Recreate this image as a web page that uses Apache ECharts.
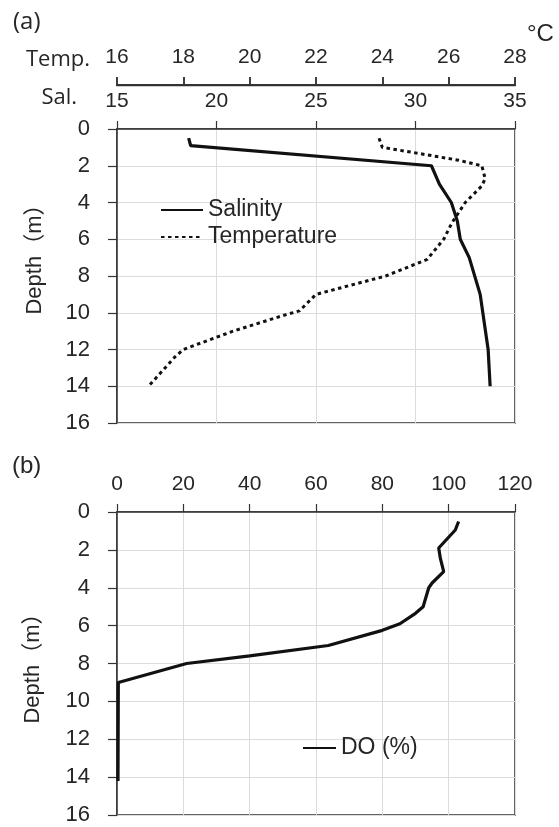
<!DOCTYPE html>
<html>
<head>
<meta charset="utf-8">
<script src="https://cdn.jsdelivr.net/npm/echarts@6/dist/echarts.min.js"></script>
<style>
  html, body { margin: 0; padding: 0; background: #fff; }
  #chart { width: 559px; height: 827px; background: #fff; }
</style>
</head>
<body>
<div id="chart"></div>
<script>
// Panel (a): salinity and temperature profiles against depth
const salDepth = [0.5, 0.9, 2, 3, 4, 5, 6, 7, 9, 12, 14];
const salValues = [18.6, 18.7, 30.8, 31.2, 31.8, 32.1, 32.25, 32.7, 33.25, 33.65, 33.75];

const tempDepth = [0.5, 1, 1.3, 1.7, 2, 2.7, 3.1, 4, 5.1, 6, 7.1, 8, 9, 9.9, 10.1, 11, 12, 12.4, 14];
const tempValues = [23.9, 24.0, 25.0, 26.3, 27.0, 27.1, 27.0, 26.5, 26.1, 25.85, 25.35, 24.1, 22.0, 21.5, 21.1, 19.5, 18.0, 17.75, 16.95];

// Panel (b): dissolved oxygen saturation against depth
const doDepth = [0.5, 0.95, 1.9, 2.45, 3.15, 3.75, 4, 5, 5.35, 5.9, 6.25, 7.05, 7.6, 8, 9, 14.2];
const doValues = [103, 102, 97, 97.5, 98.5, 95, 94, 92.3, 90, 85.3, 80, 63.7, 40, 21, 0.4, 0.3];

// Axis ranges [min, max, interval]
const salRange = [15, 35, 5];
const tempRange = [16, 28, 2];
const doRange = [0, 120, 20];
const depthRange = [0, 16, 2];

const pairs = (xs, ys) => xs.map((x, i) => [x, ys[i]]);

const SANS = "Liberation Sans, Arial, sans-serif";
const TXT = '#262626';
const AXIS = '#333';
const GRIDLINE = '#dcdcdc';

function topAxis(grid, range, split) {
  return {
    type: 'value', gridIndex: grid, position: 'top',
    min: range[0], max: range[1], interval: range[2],
    axisLine: { show: true, onZero: false, lineStyle: { color: AXIS, width: 1.5 } },
    axisTick: { show: true, length: 8, lineStyle: { color: AXIS, width: 1.2 } },
    axisLabel: { show: true, color: TXT, fontSize: 21, fontFamily: SANS, margin: 17 },
    splitLine: { show: split, lineStyle: { color: GRIDLINE, width: 1 } }
  };
}

function depthAxis(grid) {
  return {
    type: 'value', gridIndex: grid, inverse: true,
    min: depthRange[0], max: depthRange[1], interval: depthRange[2],
    axisLine: { show: true, onZero: false, lineStyle: { color: AXIS, width: 1.5 } },
    axisTick: { show: true, length: 9, lineStyle: { color: AXIS, width: 1.2 } },
    axisLabel: { color: TXT, fontSize: 22, fontFamily: SANS, margin: 27 },
    splitLine: { show: true, lineStyle: { color: GRIDLINE, width: 1 } }
  };
}

// temperature scale used for plotting inside panel (a)
const tempPlotAxis = {
  type: 'value', gridIndex: 0, position: 'top', show: false,
  min: tempRange[0], max: tempRange[1], interval: tempRange[2],
  splitLine: { show: false }
};

// visible temperature scale: a thin strip above panel (a), painted on its own layer
const tempScaleAxis = {
  type: 'value', gridIndex: 2, position: 'bottom', zlevel: 1, z: 10,
  min: tempRange[0], max: tempRange[1], interval: tempRange[2],
  axisLine: { show: true, onZero: false, lineStyle: { color: AXIS, width: 2 } },
  axisTick: { show: true, inside: true, length: 8, lineStyle: { color: AXIS, width: 1.5 } },
  axisLabel: { show: true, inside: true, color: TXT, fontSize: 21, fontFamily: SANS, margin: 17 },
  splitLine: { show: true, lineStyle: { color: AXIS, width: 1.5 } }
};

const hiddenAxis = (grid) => ({ type: 'value', gridIndex: grid, show: false, min: 0, max: 1, splitLine: { show: false } });

// empty trailing strip, kept below the drawing
const spacerAxis = {
  type: 'value', gridIndex: 4, position: 'bottom', min: 0, max: 1,
  axisLine: { show: true, onZero: false, lineStyle: { color: 'rgba(255,255,255,0)' } },
  axisTick: { show: true, lineStyle: { color: 'rgba(255,255,255,0)' } },
  axisLabel: { show: false }, splitLine: { show: false }
};

const chart = echarts.init(document.getElementById('chart'), null, { renderer: 'canvas' });

chart.setOption({
  animation: false,
  grid: [
    { left: 117, top: 129, width: 398, height: 294, show: true, borderColor: AXIS, borderWidth: 1.5, backgroundColor: 'transparent' },
    { left: 117, top: 512, width: 398, height: 303, show: true, borderColor: AXIS, borderWidth: 1.5, backgroundColor: 'transparent' },
    { left: 117, top: 77, width: 398, height: 8, show: false },
    // base line of the temperature scale
    { left: 117, top: 85, width: 398, height: 0.5, show: true, zlevel: 1, z: 10, borderColor: AXIS, borderWidth: 1.5, backgroundColor: 'transparent' },
    { left: 117, top: 824, width: 398, height: 1, show: false }
  ],
  xAxis: [
    topAxis(0, salRange, true),
    tempPlotAxis,
    topAxis(1, doRange, true),
    tempScaleAxis,
    hiddenAxis(3),
    spacerAxis
  ],
  yAxis: [
    depthAxis(0),
    depthAxis(1),
    hiddenAxis(2),
    hiddenAxis(3),
    hiddenAxis(4)
  ],
  legend: [
    {
      orient: 'vertical', left: 155, top: 193,
      itemWidth: 42, itemHeight: 14, itemGap: 3,
      itemStyle: { opacity: 0 },
      textStyle: { color: TXT, fontSize: 23, fontFamily: SANS, lineHeight: 24 },
      data: ['Salinity', 'Temperature']
    },
    {
      orient: 'vertical', left: 297, top: 731,
      itemWidth: 33, itemHeight: 14,
      itemStyle: { opacity: 0 },
      textStyle: { color: TXT, fontSize: 23, fontFamily: SANS, lineHeight: 24 },
      data: ['DO (%)']
    }
  ],
  series: [
    {
      name: 'Salinity', type: 'line', xAxisIndex: 0, yAxisIndex: 0,
      symbol: 'none', data: pairs(salValues, salDepth),
      lineStyle: { color: '#111', width: 3.2 }, itemStyle: { color: '#111' }
    },
    {
      name: 'Temperature', type: 'line', xAxisIndex: 1, yAxisIndex: 0,
      symbol: 'none', data: pairs(tempValues, tempDepth),
      lineStyle: { color: '#111', width: 3, type: [3.5, 3.5] }, itemStyle: { color: '#111' }
    },
    {
      name: 'DO (%)', type: 'line', xAxisIndex: 2, yAxisIndex: 1,
      symbol: 'none', data: pairs(doValues, doDepth),
      lineStyle: { color: '#111', width: 3.2 }, itemStyle: { color: '#111' }
    }
  ],
  graphic: [
    { type: 'text', x: 13, y: 22, style: { text: '(a)', fill: TXT, fontSize: 24, fontFamily: "Open Sans, sans-serif", verticalAlign: 'middle' } },
    { type: 'text', x: 12, y: 466, style: { text: '(b)', fill: TXT, fontSize: 24, fontFamily: SANS, verticalAlign: 'middle' } },
    { type: 'text', x: 90, y: 60, style: { text: 'Temp.', fill: TXT, fontSize: 22, fontFamily: "Open Sans, sans-serif", align: 'right', verticalAlign: 'middle' } },
    { type: 'text', x: 77, y: 98, style: { text: 'Sal.', fill: TXT, fontSize: 22, fontFamily: "Open Sans, sans-serif", align: 'right', verticalAlign: 'middle' } },
    { type: 'text', x: 527, y: 34, style: { text: '°C', fill: TXT, fontSize: 24, fontFamily: SANS, verticalAlign: 'middle' } },
    { type: 'text', x: 35, y: 254, rotation: Math.PI / 2, style: { text: 'Depth（m）', fill: TXT, fontSize: 22, fontFamily: SANS + ", Noto Sans CJK JP", align: 'center', verticalAlign: 'middle' } },
    { type: 'text', x: 33, y: 663, rotation: Math.PI / 2, style: { text: 'Depth（m）', fill: TXT, fontSize: 22, fontFamily: SANS + ", Noto Sans CJK JP", align: 'center', verticalAlign: 'middle' } }
  ]
});
chart.getZr().refreshImmediately();
</script>
</body>
</html>
